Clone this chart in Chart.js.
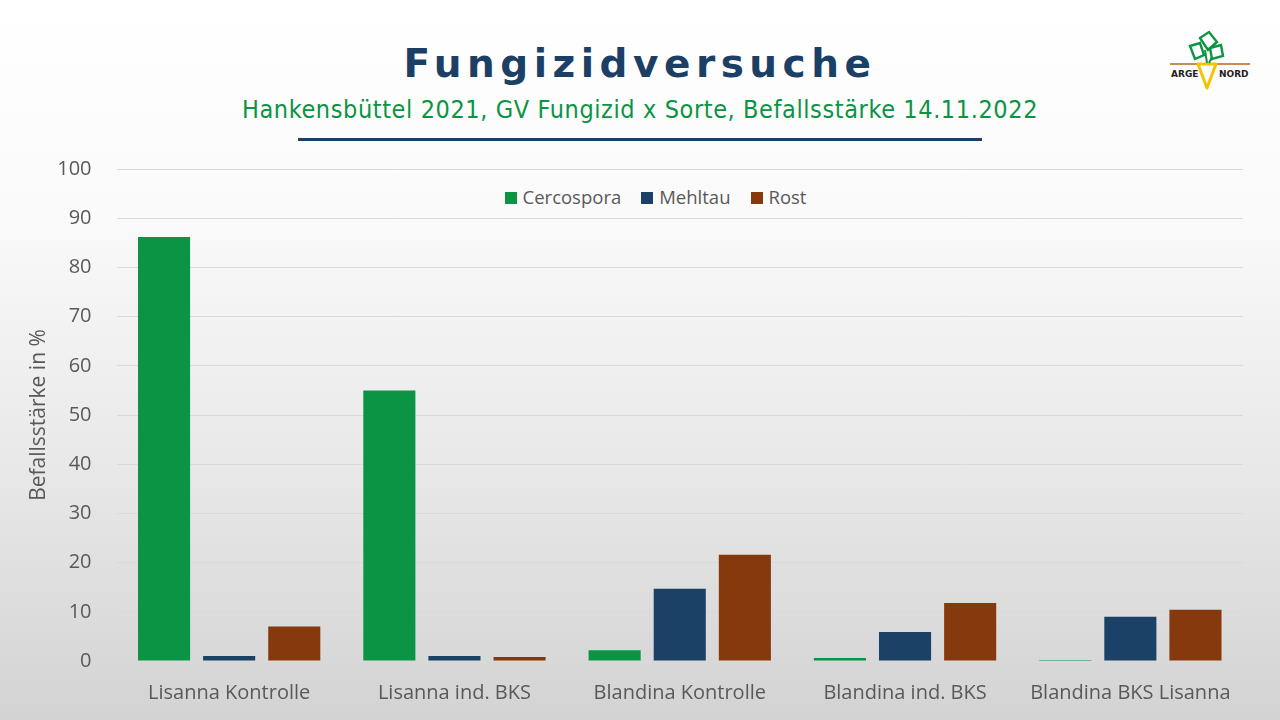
<!DOCTYPE html>
<html>
<head>
<meta charset="utf-8">
<script src="https://cdn.jsdelivr.net/npm/chart.js@4/dist/chart.umd.min.js"></script>
<style>
  html, body { margin:0; padding:0; }
  body { width:1280px; height:720px; overflow:hidden; position:relative;
    background: linear-gradient(to bottom, #ffffff 0%, #fafafa 30%, #e8e8e8 65%, #d3d3d3 100%);
    font-family: "Open Sans", sans-serif; }
  #title { position:absolute; left:0; width:1280px; top:44px; text-align:center; line-height:39px;
    font-family:"DejaVu Sans", sans-serif; font-weight:bold; font-size:39px; letter-spacing:5.5px; color:#1c3f66; }
  #subtitle { position:absolute; left:0; width:1280px; top:97px; text-align:center; line-height:25px;
    font-family:"DejaVu Sans Condensed","DejaVu Sans", sans-serif; font-size:25px; letter-spacing:0.6px; color:#0b9444; }
  #rule { position:absolute; left:298px; width:684px; top:138px; height:3px; background:#1c3f66; }
  #wrap { position:absolute; left:26px; top:132px; width:1234px; height:585px; }
  #legend { position:absolute; top:184px; left:0; width:1311px; text-align:center; font-size:18.5px; color:#595959; }
  #legend span.item { display:inline-block; margin:0 10px; }
  #legend span.box { display:inline-block; width:12px; height:12px; margin-right:6px; vertical-align:0px; }
  #logo { position:absolute; left:1168px; top:30px; width:84px; height:62px; }
</style>
</head>
<body>
<div id="title">Fungizidversuche</div>
<div id="subtitle">Hankensbüttel 2021, GV Fungizid x Sorte, Befallsstärke 14.11.2022</div>
<div id="rule"></div>
<svg id="logo" viewBox="0 0 84 62">
  <line x1="2" y1="34" x2="82" y2="34" stroke="#b5651d" stroke-width="1.5"/>
  <path d="M30 34 L48 34 L39 58 Z" fill="none" stroke="#f5c400" stroke-width="3" stroke-linejoin="round"/>
  <path d="M22 16 L32 13 L36 25 L27 29 Z" fill="none" stroke="#0b9444" stroke-width="2.4"/>
  <path d="M32 8 L41 2 L49 12 L40 20 Z" fill="none" stroke="#0b9444" stroke-width="2.4"/>
  <path d="M42 18 L53 15 L55 26 L44 29 Z" fill="none" stroke="#0b9444" stroke-width="2.4"/>
  <path d="M37 20 L39 33 M44 27 L41 33" stroke="#0b9444" stroke-width="2"/>
  <text x="3" y="47" font-family="DejaVu Sans" font-weight="bold" font-size="9" fill="#222">ARGE</text>
  <text x="51" y="47" font-family="DejaVu Sans" font-weight="bold" font-size="9" fill="#222">NORD</text>
</svg>
<div id="legend"></div>
<div id="wrap"><canvas id="c"></canvas></div>
<script>
const categories = ["Lisanna Kontrolle", "Lisanna ind. BKS", "Blandina Kontrolle", "Blandina ind. BKS", "Blandina BKS Lisanna"];
const cercospora = [86.2, 55.0, 2.2, 0.6, 0.2];
const mehltau = [1.0, 1.0, 14.7, 5.9, 9.0];
const rost = [7.0, 0.8, 21.6, 11.8, 10.4];
const yTicks = [0, 10, 20, 30, 40, 50, 60, 70, 80, 90, 100];

const datasets = [
  { label: "Cercospora", data: cercospora, backgroundColor: "#0b9444" },
  { label: "Mehltau", data: mehltau, backgroundColor: "#1c4166" },
  { label: "Rost", data: rost, backgroundColor: "#86390c" }
];

const chart = new Chart(document.getElementById("c"), {
  type: "bar",
  data: { labels: categories, datasets: datasets.map(d => Object.assign({ barPercentage: 0.8, categoryPercentage: 0.867 }, d)) },
  options: {
    responsive: true, maintainAspectRatio: false, animation: false,
    layout: { padding: { top: 0, right: 17, bottom: 0, left: 0 } },
    plugins: { legend: { display: false }, tooltip: { enabled: false } },
    scales: {
      x: {
        grid: { display: false },
        border: { display: true, color: "#d9d9d9" },
        ticks: { color: "#595959", font: { family: "Open Sans", size: 20 }, padding: 12 }
      },
      y: {
        min: 0, max: 100,
        afterBuildTicks: s => { s.ticks = yTicks.map(v => ({ value: v })); },
        grid: { color: "#d9d9d9", drawTicks: false },
        border: { display: false },
        ticks: { color: "#595959", font: { family: "Open Sans", size: 20 }, padding: 25 },
        title: { display: true, text: "Befallsstärke in %", color: "#595959", font: { family: "Open Sans", size: 21 }, padding: { top: 0, bottom: -19 } }
      }
    }
  }
});

const lg = document.getElementById("legend");
chart.data.datasets.forEach(d => {
  const it = document.createElement("span"); it.className = "item";
  const b = document.createElement("span"); b.className = "box"; b.style.background = d.backgroundColor;
  it.appendChild(b); it.appendChild(document.createTextNode(d.label));
  lg.appendChild(it);
});
</script>
</body>
</html>
